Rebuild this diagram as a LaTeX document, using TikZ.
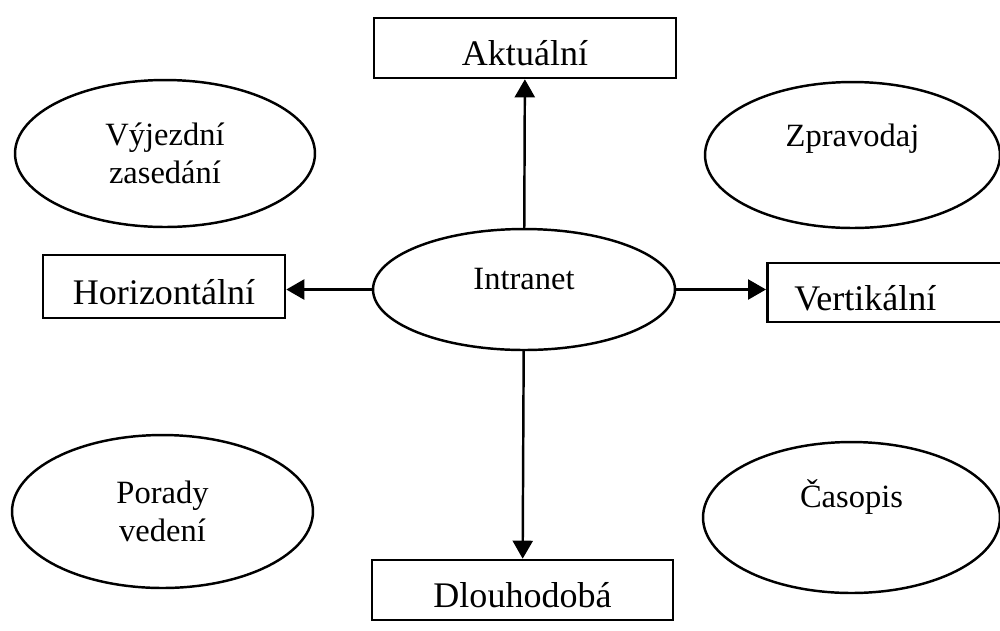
\documentclass[tikz,border=0pt]{standalone}
\usepackage{fontspec}
\setmainfont{Liberation Serif}
\usetikzlibrary{arrows.meta,shapes.geometric}
\tikzset{
  topic/.style={draw, ellipse, line width=1.4pt, inner sep=0pt, align=center,
    font=\fontsize{18.5}{22}\selectfont},
  channel/.style={draw, rectangle, line width=1.5pt, inner sep=0pt,
    text height=0.85cm, text depth=0.15cm, minimum height=1.2cm,
    font=\fontsize{20.5}{24}\selectfont},
  arrow/.style={-{Triangle[length=0.36cm,width=0.4cm]}, line width=1.4pt}
}
\begin{document}
\begin{tikzpicture}[x=0.02cm, y=-0.02cm]
  \useasboundingbox (0,0) rectangle (1000,630);
  % centre
  \node[topic, minimum width=6.04cm, minimum height=2.42cm, text height=0.5cm, text depth=0.5cm] (intranet) at (524,289.5) {Intranet};
  % boxes
  \node[channel, minimum width=6.04cm] (akt) at (525,48) {Aktuální};
  \node[channel, minimum width=4.84cm, minimum height=1.26cm] (horiz) at (164,286.5) {Horizontální};
  \node[channel, anchor=west, text width=4.5cm, align=left, inner xsep=0.54cm, minimum height=1.18cm] (vert) at (766,292.5) {Vertikální};
  \node[channel, minimum width=6.02cm] (dlouh) at (522.5,590) {Dlouhodobá};
  % corner ellipses
  \node[topic, minimum width=6cm, minimum height=2.94cm] (vyjezd) at (165,153.5) {Výjezdní\\zasedání};
  \node[topic, minimum width=5.9cm, minimum height=2.92cm, text height=0.5cm, text depth=0.86cm] (zprav) at (852.5,155) {Zpravodaj};
  \node[topic, minimum width=6.02cm, minimum height=3.06cm] (porady) at (162.5,511.5) {Porady\\vedení};
  \node[topic, minimum width=5.94cm, minimum height=3.02cm, text height=0.5cm, text depth=0.9cm] (casopis) at (851.5,517.5) {Časopis};
  \draw[arrow] (intranet) -- (akt);
  \draw[arrow] (intranet.west) -- (intranet.west -| horiz.east);
  \draw[arrow] (intranet.east) -- (intranet.east -| vert.west);
  \draw[arrow] (intranet) -- (dlouh);
\end{tikzpicture}
\end{document}
